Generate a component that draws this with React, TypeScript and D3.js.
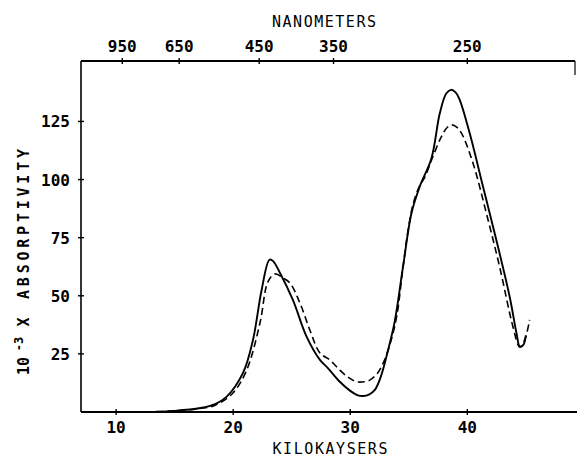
import React from "react";
import * as d3 from "d3";

const W = 577;
const H = 458;

// bottom axis ticks (kilokaysers) and top axis ticks (nanometers)
const kkTicks = [10, 20, 30, 40];
const nmTicks = [950, 650, 450, 350, 250];
const absTicks = [25, 50, 75, 100, 125];

// solid curve: [kilokaysers, absorptivity x 10^-3]
const solidK = [12.5, 15, 17.2, 18.5, 19.45, 20.84, 21.69, 22.43, 23.1, 23.4, 24.0, 25.1, 26.27, 27.41, 28.09, 29.11, 29.97, 30.6, 31.1, 31.6, 32.1, 32.6, 33.2, 33.8, 34.51, 35.23, 35.94, 36.94, 37.65, 38.2, 38.6, 39.0, 39.35, 40.2, 41.34, 42.48, 43.62, 44.2, 44.5, 44.8, 45.0];
const solidV = [0, 0.5, 1.7, 3.5, 6.6, 16.8, 31, 52.5, 65.5, 65, 59.8, 48.2, 32.4, 22.4, 18.9, 13, 9.2, 7.3, 6.9, 7.5, 9.5, 15, 26, 39, 62.5, 85.5, 97, 109.2, 128.5, 137, 138.6, 137.5, 134.3, 120, 97, 74, 49.6, 34, 28, 29, 33];

// dashed curve
const dashK = [12.5, 15, 17.2, 18.5, 19.98, 21.15, 22.29, 22.97, 23.57, 24.25, 24.85, 25.7, 26.55, 27.41, 28.26, 29.11, 29.8, 30.54, 31.2, 31.7, 32.3, 32.9, 33.5, 34.0, 34.5, 35.0, 35.4, 35.9, 36.37, 37.07, 37.79, 38.3, 38.7, 39.1, 39.5, 40.49, 41.63, 42.76, 43.9, 44.47, 44.9, 45.32];
const dashV = [0, 0.5, 1.5, 3, 8.2, 18, 38.3, 56, 59.4, 57.7, 55.5, 46.9, 35.3, 25.4, 22.4, 18, 15, 13, 13, 13.8, 16.5, 22, 31, 42, 62, 80, 90, 97, 101, 110, 118.5, 122.5, 123.5, 122.5, 120, 107, 85.5, 62.5, 36.7, 28, 31, 39.6];

const FONT = "'DejaVu Sans Mono', monospace";

export default function App() {
  const x = d3.scaleLinear().domain([7, 49.2]).range([81, 575]);
  const y = d3.scaleLinear().domain([0, 151]).range([412, 61]);

  const line = d3
    .line<[number, number]>()
    .x((d) => x(d[0]))
    .y((d) => y(d[1]))
    .curve(d3.curveCatmullRom.alpha(0.5));

  const solid = solidK.map((k, i) => [k, solidV[i]] as [number, number]);
  const dashed = dashK.map((k, i) => [k, dashV[i]] as [number, number]);

  const x0 = x.range()[0];
  const x1 = x.range()[1];
  const y0 = y.range()[0];
  const y1 = y.range()[1];

  return (
    <svg
      width={W}
      height={H}
      style={{ position: "absolute", left: 0, top: 0, background: "#fff" }}
    >
      <rect x={0} y={0} width={W} height={H} fill="#fff" />
      {/* frame */}
      <line x1={x0} y1={y0} x2={x1 + 2} y2={y0} stroke="#000" strokeWidth={2} />
      <line x1={x0} y1={y1} x2={x1} y2={y1} stroke="#000" strokeWidth={2} />
      <line x1={x0} y1={y1} x2={x0} y2={y0} stroke="#000" strokeWidth={1.6} />
      <line x1={x1} y1={y1} x2={x1} y2={y1 + 14} stroke="#000" strokeWidth={1.2} />

      {/* bottom ticks */}
      {kkTicks.map((t) => (
        <g key={"b" + t}>
          <line x1={x(t)} x2={x(t)} y1={y0 - 3} y2={y0 + 3} stroke="#000" strokeWidth={1.4} />
          <text x={x(t)} y={y0 + 21} textAnchor="middle" fontFamily={FONT} fontSize={16} fontWeight="bold" fill="#000">
            {t}
          </text>
        </g>
      ))}
      {/* top ticks */}
      {nmTicks.map((t) => (
        <g key={"t" + t}>
          <line x1={x(1e4 / t)} x2={x(1e4 / t)} y1={y1 - 3} y2={y1 + 3} stroke="#000" strokeWidth={1.4} />
          <text x={x(1e4 / t)} y={y1 - 9} textAnchor="middle" fontFamily={FONT} fontSize={16} fontWeight="bold" fill="#000">
            {t}
          </text>
        </g>
      ))}
      {/* left ticks */}
      {absTicks.map((t) => (
        <g key={"l" + t}>
          <line x1={x0 - 3} x2={x0 + 3} y1={y(t)} y2={y(t)} stroke="#000" strokeWidth={1.4} />
          <text x={x0 - 11} y={y(t) + 6} textAnchor="end" fontFamily={FONT} fontSize={16} fontWeight="bold" fill="#000">
            {t}
          </text>
        </g>
      ))}

      {/* axis titles */}
      <text x={324} y={27} textAnchor="middle" fontFamily={FONT} fontSize={15} fill="#000" textLength={104} lengthAdjust="spacing">
        NANOMETERS
      </text>
      <text x={330} y={454} textAnchor="middle" fontFamily={FONT} fontSize={15} fill="#000" textLength={115} lengthAdjust="spacing">
        KILOKAYSERS
      </text>
      <g transform="translate(29,224) rotate(-90)">
        <text x={0} y={0} textAnchor="middle" fontFamily={FONT} fontSize={15} fontWeight="bold" fill="#000" textLength={150} lengthAdjust="spacing">
          ABSORPTIVITY
        </text>
      </g>
      <g transform="translate(29,322) rotate(-90)">
        <text x={0} y={0} textAnchor="middle" fontFamily={FONT} fontSize={15} fontWeight="bold" fill="#000">
          X
        </text>
      </g>
      <g transform="translate(29,366) rotate(-90)">
        <text x={0} y={0} textAnchor="middle" fontFamily={FONT} fontSize={15} fontWeight="bold" fill="#000">
          10
        </text>
      </g>
      <g transform="translate(23,344) rotate(-90)">
        <text x={0} y={0} textAnchor="middle" fontFamily={FONT} fontSize={12} fontWeight="bold" fill="#000">
          -3
        </text>
      </g>

      {/* curves */}
      <path d={line(dashed) || ""} fill="none" stroke="#000" strokeWidth={1.6} strokeDasharray="7,4" />
      <path d={line(solid) || ""} fill="none" stroke="#000" strokeWidth={1.9} />
    </svg>
  );
}
